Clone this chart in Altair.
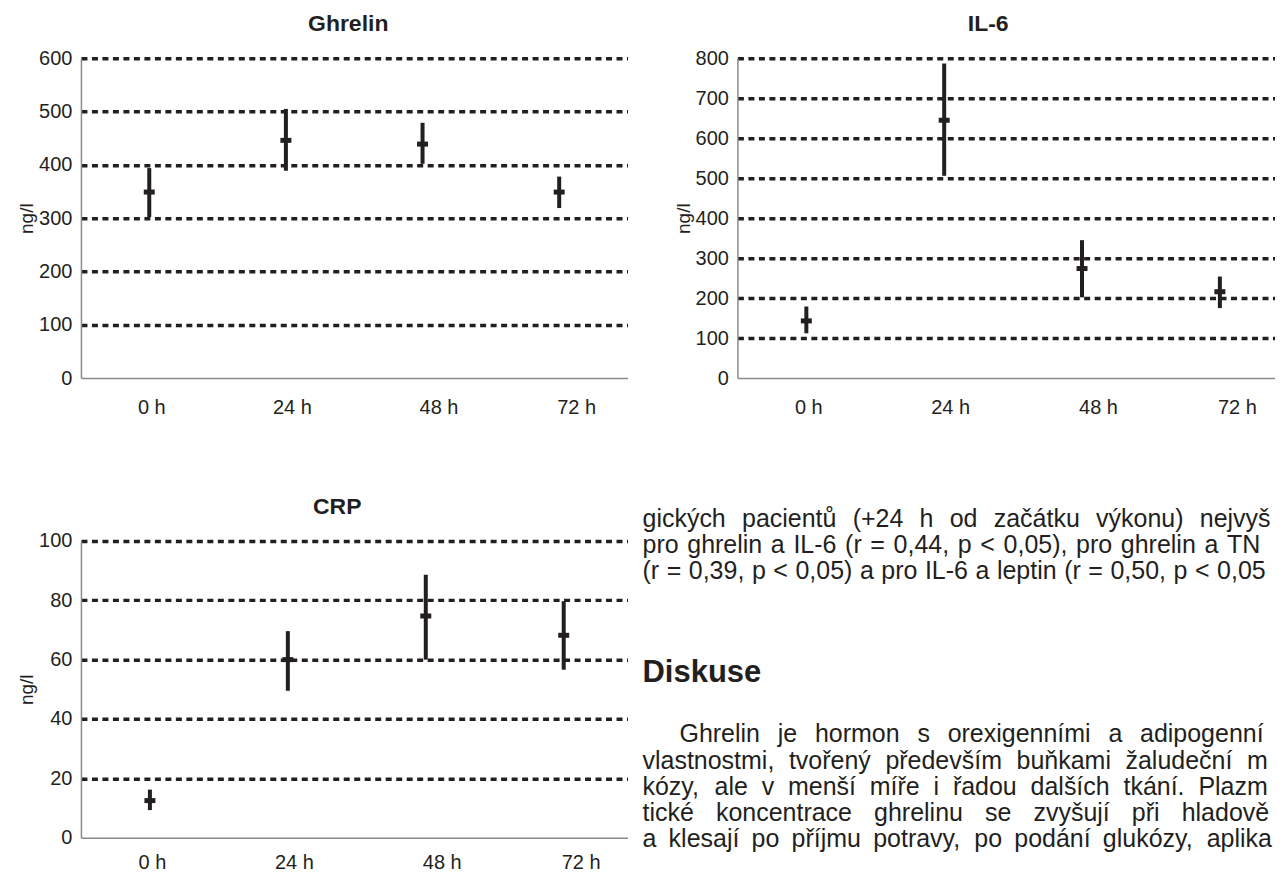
import altair as alt
import pandas as pd

# ---------------- data ----------------
hours = [0, 24, 48, 72]

ghrelin_mean = [349, 446, 439, 349]
ghrelin_lo = [302, 389, 402, 319]
ghrelin_hi = [394, 505, 479, 378]

il6_mean = [143, 645, 274, 216]
il6_lo = [112, 506, 202, 175]
il6_hi = [179, 787, 345, 254]

crp_mean = [12.5, 60, 74.7, 68.2]
crp_lo = [9.3, 49.5, 60, 56.6]
crp_hi = [16.2, 69.6, 88.6, 79.7]

para1 = [
    "gických pacientů (+24 h od začátku výkonu) nejvyšší",
    "pro ghrelin a IL-6 (r = 0,44, p < 0,05), pro ghrelin a TNFα",
    "(r = 0,39, p < 0,05) a pro IL-6 a leptin (r = 0,50, p < 0,05)",
]
heading = "Diskuse"
para2 = [
    "Ghrelin je hormon s orexigenními a adipogenními",
    "vlastnostmi, tvořený především buňkami žaludeční mu-",
    "kózy, ale v menší míře i řadou dalších tkání. Plazma-",
    "tické koncentrace ghrelinu se zvyšují při hladovění",
    "a klesají po příjmu potravy, po podání glukózy, aplikaci",
]

# ---------------- styling ----------------
INK = "#231f20"
AXIS_GRAY = "#8a8a8a"
FONT = "Liberation Sans"

label_offset = {
    "condition": [
        {"test": "datum.value === 0", "value": 2},
        {"test": "datum.value === 24", "value": 6},
        {"test": "datum.value === 48", "value": 16},
    ],
    "value": 17,
}
grid_op = {"condition": {"test": "datum.value === 0", "value": 0}, "value": 1}


def panel(title, mean, lo, hi, ymax, ystep, width, height, xmax, title_dx, lab_pad):
    df = pd.DataFrame({"hour": hours, "mean": mean, "lo": lo, "hi": hi})
    xaxis = alt.Axis(
        values=hours, labelExpr="datum.value + ' h'", title=None, grid=False,
        ticks=False, domainColor=AXIS_GRAY, domainWidth=1.5, labelFontSize=20,
        labelPadding=lab_pad, labelColor=INK, labelFont=FONT, labelOffset=label_offset,
    )
    xscale = alt.Scale(domain=[-12, xmax], nice=False, zero=False)
    yaxis = alt.Axis(
        values=list(range(0, ymax + 1, ystep)), title="ng/l", titleFontSize=19,
        titleFontWeight="normal", titleColor=INK, titleFont=FONT, titlePadding=2,
        grid=True, gridDash=[6, 4.5], gridWidth=3.5, gridColor=INK, gridOpacity=grid_op,
        ticks=False, domainColor=AXIS_GRAY, domainWidth=1.5, labelFontSize=20,
        labelPadding=9, labelColor=INK, labelFont=FONT, labelOverlap=False,
    )
    yscale = alt.Scale(domain=[0, ymax], nice=False)
    base = alt.Chart(df)
    bars = base.mark_rule(color=INK, strokeWidth=4).encode(
        x=alt.X("hour:Q", scale=xscale, axis=xaxis),
        y=alt.Y("lo:Q", scale=yscale, axis=yaxis),
        y2="hi:Q",
    )
    means = base.mark_tick(color=INK, orient="horizontal", size=11, thickness=5, opacity=1).encode(
        x=alt.X("hour:Q", scale=xscale, axis=xaxis),
        y=alt.Y("mean:Q", scale=yscale, axis=yaxis),
    )
    return alt.layer(bars, means).properties(
        width=width, height=height,
        title=alt.TitleParams(title, fontSize=23, fontWeight="bold", font=FONT, color=INK,
                              dx=title_dx, offset=12, anchor="middle"),
    )


ghrelin = panel("Ghrelin", ghrelin_mean, ghrelin_lo, ghrelin_hi, 600, 100, 547, 320, 84, -6, 19)
il6 = panel("IL-6", il6_mean, il6_lo, il6_hi, 800, 100, 538, 320, 81.6, -18, 19)
crp = panel("CRP", crp_mean, crp_lo, crp_hi, 100, 20, 547, 297, 83.1, -17, 15)

# ---------------- text column (justified, cut at the right edge) ----------------
# Arial / Liberation Sans advance widths (1/1000 em)
CW = {" ": 278, "(": 333, ")": 333, "+": 584, ",": 278, ".": 278, "-": 333, "=": 584, "<": 584,
      "α": 578, "I": 278, "L": 556, "T": 611, "N": 722, "F": 611, "G": 778, "P": 667, "D": 722,
      "a": 556, "b": 556, "c": 500, "d": 556, "e": 556, "f": 278, "g": 556, "h": 556, "i": 222,
      "j": 222, "k": 500, "l": 222, "m": 833, "n": 556, "o": 556, "p": 556, "q": 556, "r": 333,
      "s": 500, "t": 278, "u": 556, "v": 500, "w": 722, "x": 500, "y": 500, "z": 500,
      "á": 556, "é": 556, "ě": 556, "í": 278, "ó": 556, "ú": 556, "ů": 556, "ý": 500,
      "č": 500, "ň": 556, "ř": 333, "š": 500, "ž": 500}
FS = 25
COL_W = 648      # justified column width
EDGE = 631       # visible width before the right edge
INDENT = 37


def tw(s):
    return sum(CW.get(c, 556) for c in s) * FS / 1000


line_specs = []
for i, t in enumerate(para1):
    line_specs.append((t, 0, i, COL_W if i < len(para1) - 1 else 632))
for i, t in enumerate(para2):
    line_specs.append((t, INDENT if i == 0 else 0, 8.23 + i, COL_W))

wtxt, wpx, wrow = [], [], []
for text, start, row, colw in line_specs:
    words = text.split(" ")
    widths = [tw(w) for w in words]
    gap = max(tw(" "), (colw - start - sum(widths)) / (len(words) - 1))
    x = start
    for w, wd in zip(words, widths):
        if x >= EDGE:
            break
        if x + wd > EDGE:
            cut = ""
            for c in w:
                if x + tw(cut + c) > EDGE:
                    break
                cut += c
            w = cut
        if w:
            wtxt.append(w); wpx.append(x); wrow.append(row)
        x += wd + gap

words_df = pd.DataFrame({"text": wtxt, "px": wpx, "row": wrow})
head_df = pd.DataFrame({"text": [heading], "px": [0], "row": [5.88]})

tx = alt.X("px:Q", scale=alt.Scale(domain=[0, 633], range=[-95, 538]), axis=None)
ty = alt.Y("row:Q", scale=alt.Scale(domain=[0, 12], range=[-22, -22 + 26.2 * 12]), axis=None)

body = alt.Chart(words_df).mark_text(
    align="left", baseline="middle", fontSize=FS, font=FONT, color=INK
).encode(x=tx, y=ty, text="text:N")
head = alt.Chart(head_df).mark_text(
    align="left", baseline="middle", fontSize=31, fontWeight="bold", font=FONT, color=INK
).encode(x=tx, y=ty, text="text:N")
textcol = alt.layer(body, head).properties(width=538, height=297)

chart = alt.concat(
    ghrelin, il6, crp, textcol, columns=2,
    spacing=alt.RowColnumber(row=163, column=110), bounds="flush",
).properties(
    padding={"left": 9, "top": 5, "right": 0, "bottom": 0}
).configure(font=FONT).configure_view(stroke=None, strokeWidth=0)

chart.save("out.html", embed_options={"renderer": "svg", "actions": False})
